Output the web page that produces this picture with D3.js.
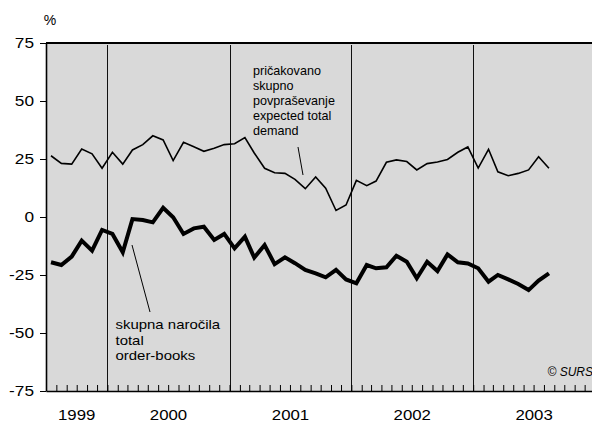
<!DOCTYPE html>
<html><head><meta charset="utf-8">
<script src="https://cdn.jsdelivr.net/npm/d3@7"></script>
<style>body{margin:0;background:#fff}svg{display:block}</style>
</head><body>
<script>
// ---- data ----
const firstMonth = [1999, 6]; // July 1999 (month index 0-based)
const expectedDemand = [26.4, 23.1, 22.8, 29.3, 27.2, 21.0, 27.9, 22.8, 28.9, 31.2, 35.0, 33.2,
  24.3, 32.2, 30.3, 28.3, 29.6, 31.2, 31.6, 34.2, 27.6, 21.0, 19.1, 18.8,
  16.2, 12.2, 17.3, 12.4, 2.8, 5.2, 15.8, 13.5, 15.5, 23.6, 24.6, 23.9,
  20.3, 23.0, 23.7, 24.8, 27.9, 30.2, 21.1, 29.2, 19.5, 17.8, 18.8, 20.3,
  26.0, 21.0];
const orderBooks = [-19.5, -20.7, -17.1, -10.2, -14.5, -5.6, -7.3, -15.2, -0.9, -1.3, -2.3, 4.0,
  -0.1, -7.3, -4.9, -4.2, -9.9, -7.3, -13.5, -8.5, -17.5, -12.1, -20.3, -17.4,
  -19.9, -22.8, -24.3, -26.0, -22.8, -26.9, -28.6, -20.7, -22.1, -21.7, -16.7, -19.3,
  -26.4, -19.3, -23.3, -16.1, -19.5, -20.0, -22.1, -27.9, -25.0, -26.9, -28.9, -31.5,
  -27.4, -24.3];
const yTicks = [-75, -50, -25, 0, 25, 50, 75];
const yearLabels = ["1999", "2000", "2001", "2002", "2003"];
const unitLabel = "%";
const demandLabel = ["pričakovano", "skupno", "povpraševanje", "expected total", "demand"];
const orderLabel = ["skupna naročila", "total", "order-books"];
const credit = "© SURS";

// ---- layout ----
const W = 592, H = 423;
const L = 46, R = 595, T = 43, B = 391;
const FONT = "'Liberation Sans', Arial, Helvetica, sans-serif";

const svg = d3.select("body").append("svg").attr("width", W).attr("height", H)
  .style("font-family", FONT);

const x = d3.scaleTime()
  .domain([new Date(firstMonth[0], firstMonth[1], 1), new Date(2004, 0, 1)])
  .range([L, R]);
const y = d3.scaleLinear().domain([-75, 75]).range([B, T]);

const dateOf = i => new Date(firstMonth[0], firstMonth[1] + i, 16);
const demandData = expectedDemand.map((v, i) => ({ d: dateOf(i), v }));
const orderData = orderBooks.map((v, i) => ({ d: dateOf(i), v }));

function stretch(sel, sx) {
  sel.each(function () {
    const t = d3.select(this);
    const tx = +t.attr("x") || 0, ty = +t.attr("y") || 0;
    t.attr("transform", `translate(${tx},${ty}) scale(${sx},1) translate(${-tx},${-ty})`);
  });
}

// plot background
svg.append("rect").attr("x", L).attr("y", T).attr("width", R - L).attr("height", B - T)
  .attr("fill", "#d9d9d9");

// year separators
const yearStarts = d3.timeYear.range(x.domain()[0], x.domain()[1]).filter(d => d > x.domain()[0]);
svg.append("g").selectAll("line").data(yearStarts).join("line")
  .attr("x1", d => Math.round(x(d)) + 0.5).attr("x2", d => Math.round(x(d)) + 0.5)
  .attr("y1", T + 2).attr("y2", B)
  .attr("stroke", "#111").attr("stroke-width", 1);

// bottom axis: monthly ticks pointing up
const xAxis = d3.axisBottom(x)
  .ticks(d3.timeMonth.every(1))
  .tickSize(-6).tickSizeOuter(0).tickFormat("");
const gx = svg.append("g").attr("transform", `translate(0,${B})`).call(xAxis);
gx.select(".domain").attr("stroke", "#000").attr("stroke-width", 1.6);
gx.selectAll(".tick line").attr("stroke", "#000").attr("stroke-width", 1);

// year labels
const yearG = svg.append("g");
yearLabels.forEach(lbl => {
  const yr = +lbl;
  const s = Math.max(+new Date(yr, 0, 1), +x.domain()[0]);
  const e = Math.min(+new Date(yr + 1, 0, 1), +x.domain()[1]);
  yearG.append("text").attr("x", (x(s) + x(e)) / 2).attr("y", 420)
    .attr("text-anchor", "middle").attr("font-size", 15).attr("fill", "#000").text(lbl);
});
stretch(yearG.selectAll("text"), 1.12);

// left axis (plain hyphen for negatives)
const yAxis = d3.axisLeft(y).tickValues(yTicks).tickSize(6).tickPadding(6).tickSizeOuter(0)
  .tickFormat(d => String(d));
const gy = svg.append("g").attr("transform", `translate(${L},0)`).call(yAxis);
gy.select(".domain").attr("stroke", "#000").attr("stroke-width", 1.6);
gy.selectAll(".tick line").attr("stroke", "#000").attr("stroke-width", 1);
gy.selectAll(".tick text").attr("font-family", FONT).attr("font-size", 15).attr("fill", "#000");
stretch(gy.selectAll(".tick text"), 1.15);

// top border
svg.append("line").attr("x1", L).attr("x2", R).attr("y1", T).attr("y2", T)
  .attr("stroke", "#000").attr("stroke-width", 2.2);

// unit label
svg.append("text").attr("x", 50).attr("y", 25).attr("text-anchor", "middle")
  .attr("font-size", 14).text(unitLabel);

// series lines
const line = d3.line().x(d => x(d.d)).y(d => y(d.v));
svg.append("path").datum(demandData).attr("d", line)
  .attr("fill", "none").attr("stroke", "#000").attr("stroke-width", 1.6)
  .attr("stroke-linejoin", "miter");
svg.append("path").datum(orderData).attr("d", line)
  .attr("fill", "none").attr("stroke", "#000").attr("stroke-width", 4)
  .attr("stroke-linejoin", "miter");

// annotations
const a1 = svg.append("g");
demandLabel.forEach((t, i) => {
  a1.append("text").attr("x", 253).attr("y", 74.5 + i * 15).attr("font-size", 12.6).text(t);
});
svg.append("line").attr("x1", 298).attr("y1", 147).attr("x2", 303).attr("y2", 175)
  .attr("stroke", "#000").attr("stroke-width", 1);

const a2 = svg.append("g");
orderLabel.forEach((t, i) => {
  a2.append("text").attr("x", 115.5).attr("y", 329.3 + i * 15.3).attr("font-size", 13).text(t);
});
stretch(a2.selectAll("text"), 1.15);
svg.append("line").attr("x1", 132).attr("y1", 245).attr("x2", 150).attr("y2", 312)
  .attr("stroke", "#000").attr("stroke-width", 1);

// credit
svg.append("text").attr("x", 593).attr("y", 376).attr("text-anchor", "end")
  .attr("font-size", 12).attr("font-style", "italic").text(credit);
</script>
</body></html>
